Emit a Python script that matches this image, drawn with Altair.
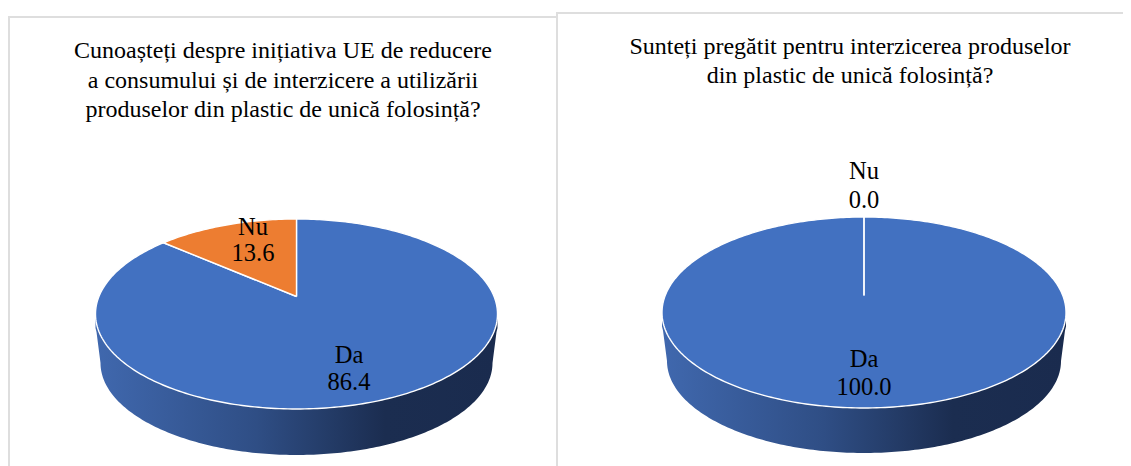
import math
import altair as alt
import pandas as pd

FONT = "Liberation Serif"
BLUE = "#4271C1"
ORANGE = "#ED7D31"

categories = ["Da", "Nu"]
values_left = [86.4, 13.6]
values_right = [100.0, 0.0]
title_left = ["Cunoașteți despre inițiativa UE de reducere",
              "a consumului și de interzicere a utilizării",
              "produselor din plastic de unică folosință?"]
title_right = ["Sunteți pregătit pentru interzicerea produselor",
               "din plastic de unică folosință?"]

H_TOP, H_BOTTOM = 8, 466


def project(g, deg):
    a = math.radians(deg)
    t = g["apex"] - g["top"]
    b = g["bottom"] - g["apex"]
    c = (b - t) / (b + t)
    yc = (g["top"] + g["bottom"]) / 2
    ry = (g["bottom"] - g["top"]) / 2
    d = g["rx"] * math.sqrt(1 - ((yc - g["apex"]) / ry) ** 2)
    w = 1 + c * math.cos(a)
    return g["xc"] + d * math.sin(a) / w, g["apex"] - t * (1 + c) * math.cos(a) / w


def slices(values, g):
    rows, start = [], 0.0
    total = sum(values)
    for cat, v in zip(categories, values):
        sweep = v / total * 360
        n = max(1, int(sweep))
        pts = [(g["xc"], g["apex"])] + [project(g, start + sweep * i / n) for i in range(n + 1)] + [(g["xc"], g["apex"])]
        for i, (x, y) in enumerate(pts):
            rows.append({"cat": cat, "i": i, "x": x, "y": y})
        start += sweep
    return pd.DataFrame(rows)


def side(g):
    yc = (g["top"] + g["bottom"]) / 2
    low_c = g["side_bottom"] - g["side_ry"]
    rows = [{"x": g["xc"] - g["rx"], "y": yc + 14, "y2": yc},
            {"x": g["xc"] - g["rx"] + 1, "y": yc + 18, "y2": yc}]
    for i in range(-90, 91):
        a = math.radians(i)
        rows.append({"x": g["xc"] + g["side_rx"] * math.sin(a), "y": low_c + g["side_ry"] * math.cos(a), "y2": yc})
    rows += [{"x": g["xc"] + g["rx"] - 1, "y": yc + 18, "y2": yc},
             {"x": g["xc"] + g["rx"], "y": yc + 14, "y2": yc}]
    return pd.DataFrame(rows)


def panel(values, g, title, title_x, title_ys, labels, frame, x0, x1):
    x = alt.X("x:Q", scale=alt.Scale(domain=[x0, x1], nice=False, zero=False), axis=None)
    y = alt.Y("y:Q", scale=alt.Scale(domain=[H_BOTTOM, H_TOP], nice=False, zero=False), axis=None)

    bg = alt.Chart(pd.DataFrame([frame])).mark_rect(
        fill="white", stroke="#dedede", strokeWidth=2, clip=True
    ).encode(x=x, x2="x2:Q", y=y, y2="y2:Q")

    gradient = alt.Gradient(
        gradient="linear", x1=0, x2=1, y1=0, y2=0,
        stops=[alt.GradientStop(color="#4068AE", offset=0),
               alt.GradientStop(color="#2F4E85", offset=0.4),
               alt.GradientStop(color="#1B2D50", offset=0.72),
               alt.GradientStop(color="#1A2B4E", offset=1)])
    wall = alt.Chart(side(g)).mark_area(color=gradient).encode(x=x, y=y, y2="y2:Q")

    df = slices(values, g)
    tops = []
    for cat, color in zip(categories, [BLUE, ORANGE]):
        tops.append(alt.Chart(df[df["cat"] == cat]).mark_line(
            fill=color, stroke="white", strokeWidth=1.4, strokeJoin="round", interpolate="linear"
        ).encode(x=x, y=y, order="i:Q"))

    tdf = pd.DataFrame({"x": [title_x] * len(title), "y": title_ys, "t": title})
    ttl = alt.Chart(tdf).mark_text(font=FONT, fontSize=24, color="#000000", align="center", baseline="middle").encode(x=x, y=y, text="t:N")

    ldf = pd.DataFrame(labels, columns=["x", "y", "t"])
    lab = alt.Chart(ldf).mark_text(font=FONT, fontSize=24.5, color="#000000", align="center", baseline="middle").encode(x=x, y=y, text="t:N")

    return alt.layer(bg, wall, *tops, ttl, lab).properties(width=x1 - x0, height=H_BOTTOM - H_TOP)


left = panel(values_left,
             dict(xc=296.5, rx=201, apex=296.5, top=219, bottom=409, side_rx=196, side_ry=92, side_bottom=455),
             title_left, 283, [51, 81, 110],
             [(349, 356, categories[0]), (349, 383, f"{values_left[0]:.1f}"),
              (253, 228, categories[1]), (253, 254, f"{values_left[1]:.1f}")],
             dict(x=9, x2=600, y=17, y2=500), 8, 556)
right = panel(values_right,
              dict(xc=864, rx=202, apex=295.5, top=217, bottom=408, side_rx=197, side_ry=92, side_bottom=453),
              title_right, 850, [47, 76],
              [(864, 360, categories[0]), (864, 388, f"{values_right[0]:.1f}"),
               (864, 172, categories[1]), (864, 201, f"{values_right[1]:.1f}")],
              dict(x=557, x2=1200, y=13, y2=500), 556, 1123)

chart = alt.hconcat(left, right, spacing=0).properties(
    padding=0, background="white"
).configure_view(stroke=None)

chart.save("out.html", embed_options={"renderer": "svg", "actions": False})
